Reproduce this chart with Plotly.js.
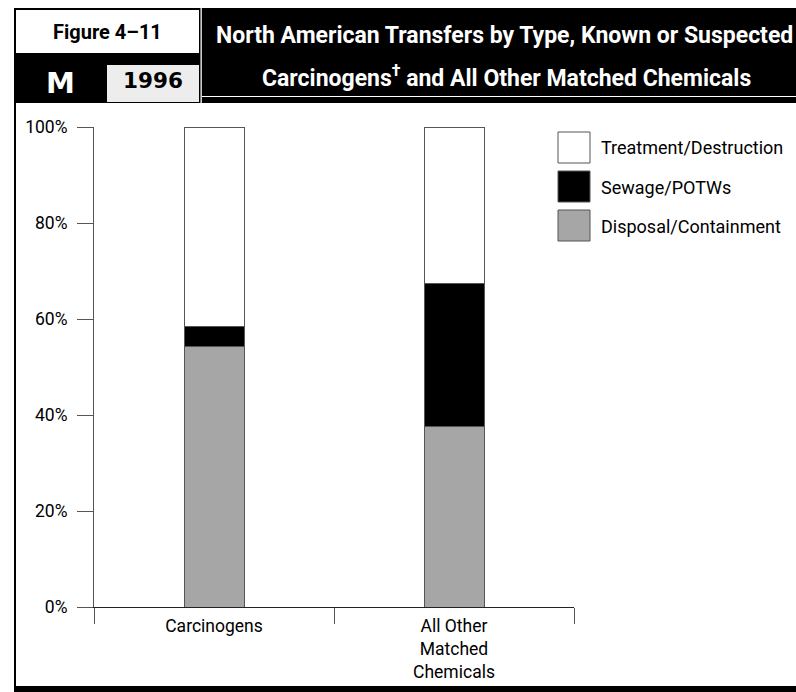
<!DOCTYPE html>
<html><head><meta charset="utf-8">
<script src="https://cdn.plot.ly/plotly-3.0.1.min.js"></script>
<style>body{margin:0;padding:0;background:#fff;overflow:hidden}</style>
</head><body><div id="chart" style="width:796px;height:692px"></div>
<script>
// ---- data ----
const categories = ["Carcinogens", "All Other<br>Matched<br>Chemicals"];
const disposal = [54.2, 37.6];   // Disposal/Containment (%)
const sewage = [4.2, 29.7];      // Sewage/POTWs (%)
const treatment = [41.6, 32.7];  // Treatment/Destruction (%)
const seriesNames = ["Disposal/Containment", "Sewage/POTWs", "Treatment/Destruction"];
const seriesColors = ["#a6a6a6", "#000000", "#ffffff"];
const yTickVals = [0, 20, 40, 60, 80, 100];
const yTickText = ["0%", "20%", "40%", "60%", "80%", "100%"];
const figureLabel = "Figure 4–11";
const badgeLetter = "M";
const yearLabel = "1996";
const titleLines = ["North American Transfers by Type, Known or Suspected",
                    "Carcinogens<sup>†</sup> and All Other Matched Chemicals"];

// ---- layout helpers (pixel -> paper) ----
const W = 796, H = 692;
const M = {l: 94, r: 222, t: 127, b: 85};
const PW = W - M.l - M.r, PH = H - M.t - M.b;
const px = x => (x - M.l) / PW;
const py = y => (H - M.b - y) / PH;

const face = "Roboto, 'Liberation Sans', sans-serif";
const lineCol = "#555555";

const values = [disposal, sewage, treatment];
const traces = values.map((v, i) => ({
  type: "bar",
  name: seriesNames[i],
  x: categories,
  y: v,
  width: 0.25,
  marker: {color: seriesColors[i], line: {color: lineCol, width: 1}},
  showlegend: false,
  hoverinfo: "skip"
}));

const shapes = [];
const annotations = [];
function rect(x0, y0, x1, y1, fill, line) {
  shapes.push({type: "rect", xref: "paper", yref: "paper",
    x0: px(x0), x1: px(x1), y0: py(y0), y1: py(y1),
    fillcolor: fill, line: line || {width: 0}, layer: "above"});
}
function label(x, y, text, font, anchor) {
  annotations.push({xref: "paper", yref: "paper", x: px(x), y: py(y),
    xanchor: anchor || "center", yanchor: "middle", showarrow: false,
    text: text, font: font});
}
// header frame
rect(14, 8, 800, 103, "#000000");
rect(16, 10, 199, 53, "#ffffff");
rect(107, 65, 199, 102, "#ededed");
rect(200.5, 8, 201.8, 103, "#ffffff");
rect(202, 96, 800, 97, "#ffffff");
// outer border of the chart panel
rect(14, 103, 16, 692, "#000000");
rect(14, 686, 800, 692, "#000000");

// legend (top -> bottom: Treatment, Sewage, Disposal)
const legTop = [132, 171, 210];
for (let k = 0; k < 3; k++) {
  const i = 2 - k;
  rect(558, legTop[k], 590, legTop[k] + 31, seriesColors[i], {color: lineCol, width: 1});
  label(599, legTop[k] + 16, seriesNames[i], {family: face, size: 18, color: "#000"}, "left");
}

// header texts
label(107, 32, "<b>" + figureLabel + "</b>", {family: face, size: 20, color: "#000"});
label(60, 83, "<b>" + badgeLetter + "</b>", {family: "DejaVu Sans", size: 29, color: "#fff"});
label(153, 81, "<b>" + yearLabel + "</b>", {family: "DejaVu Sans", size: 21.5, color: "#000"});
label(504, 35, "<b>" + titleLines[0] + "</b>", {family: face, size: 23, color: "#fff"});
label(506, 76, "<b>" + titleLines[1] + "</b>", {family: face, size: 23, color: "#fff"});

const layout = {
  width: W, height: H,
  margin: {l: M.l, r: M.r, t: M.t, b: M.b, pad: 0},
  paper_bgcolor: "#ffffff", plot_bgcolor: "#ffffff",
  barmode: "stack",
  showlegend: false,
  font: {family: face, size: 17, color: "#000"},
  xaxis: {
    type: "category", range: [-0.5, 1.5], tickson: "boundaries",
    ticks: "outside", ticklen: 16, tickcolor: lineCol, tickwidth: 1,
    showline: true, linecolor: "#222", linewidth: 1,
    showgrid: false, zeroline: false, fixedrange: true,
    ticklabelstandoff: 3,
    tickfont: {family: face, size: 17.5, color: "#000"}
  },
  yaxis: {
    range: [0, 100], tickmode: "array", tickvals: yTickVals, ticktext: yTickText,
    ticks: "outside", ticklen: 16, tickcolor: lineCol, tickwidth: 1,
    showline: true, linecolor: lineCol, linewidth: 1,
    showgrid: false, zeroline: false, fixedrange: true,
    ticklabelstandoff: 6,
    tickfont: {family: face, size: 17.5, color: "#000"}
  },
  shapes: shapes,
  annotations: annotations
};

Plotly.newPlot("chart", traces, layout, {displayModeBar: false, staticPlot: true});
</script>
</body></html>
